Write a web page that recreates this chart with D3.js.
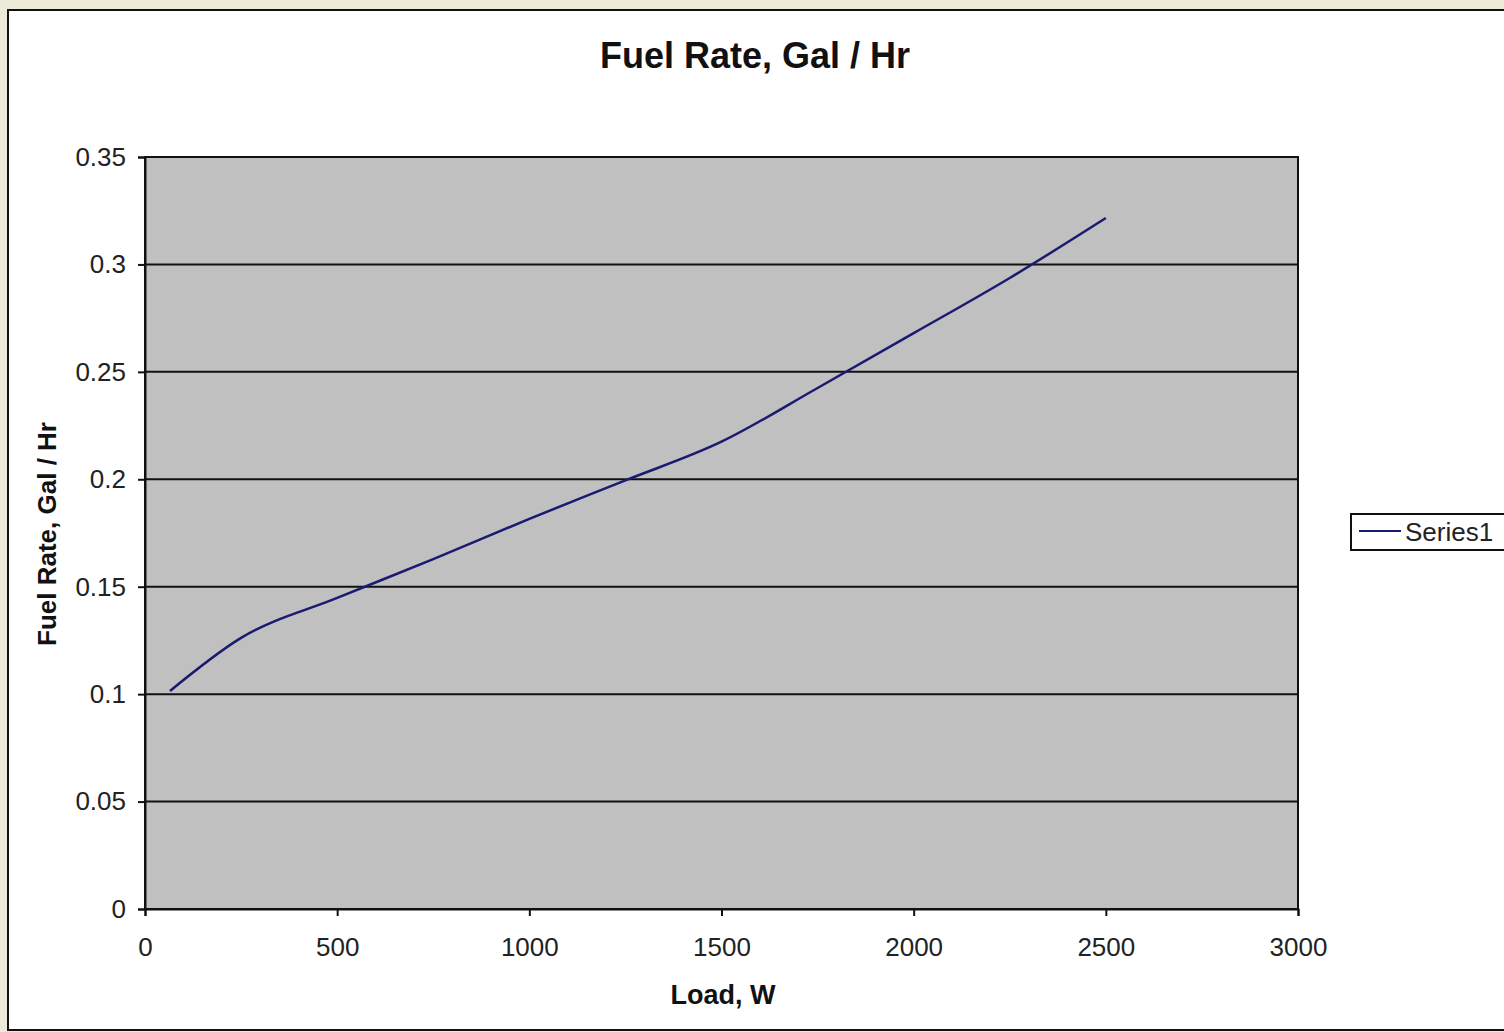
<!DOCTYPE html>
<html>
<head>
<meta charset="utf-8">
<script src="https://cdn.jsdelivr.net/npm/d3@7"></script>
<style>
  body { margin: 0; background: #ecebd9; }
  svg { display: block; font-family: "Liberation Sans", Arial, sans-serif; }
</style>
</head>
<body>
<svg id="chart"></svg>
<script>
// Data
var loads = [65, 250, 500, 750, 1000, 1250, 1500, 1750, 2000, 2250, 2500];
var fuelRate = [0.1015, 0.1262, 0.1448, 0.1628, 0.1816, 0.1995, 0.2175, 0.2425, 0.268, 0.2937, 0.3216];
var xTicks = [0, 500, 1000, 1500, 2000, 2500, 3000];
var yTicks = [0, 0.05, 0.1, 0.15, 0.2, 0.25, 0.3, 0.35];
var seriesName = "Series1";

var W = 1504, H = 1032;
var plot = {left: 145, top: 157, right: 1298, bottom: 909};

var svg = d3.select("#chart").attr("width", W).attr("height", H);

// chart area
svg.append("rect")
    .attr("x", 8).attr("y", 10)
    .attr("width", W + 20).attr("height", 1020)
    .attr("fill", "#fff")
    .attr("stroke", "#111").attr("stroke-width", 2);

var x = d3.scaleLinear().domain([0, 3000]).range([plot.left, plot.right]);
var y = d3.scaleLinear().domain([0, 0.35]).range([plot.bottom, plot.top]);

// plot area
svg.append("rect")
    .attr("x", plot.left).attr("y", plot.top)
    .attr("width", plot.right - plot.left).attr("height", plot.bottom - plot.top)
    .attr("fill", "#c0c0c0")
    .attr("stroke", "#111").attr("stroke-width", 2);

// gridlines
svg.append("g").selectAll("line")
    .data(yTicks.filter(function(d) { return d > 0 && d < 0.35; }))
    .enter().append("line")
    .attr("x1", plot.left).attr("x2", plot.right)
    .attr("y1", function(d) { return y(d); })
    .attr("y2", function(d) { return y(d); })
    .attr("stroke", "#111").attr("stroke-width", 2);

// axes
var yAxis = svg.append("g")
    .attr("transform", "translate(" + plot.left + ",0)")
    .call(d3.axisLeft(y).tickValues(yTicks).tickSize(7).tickPadding(12)
        .tickFormat(function(d) { return d3.format("")(+d.toFixed(2)); }));
var xAxis = svg.append("g")
    .attr("transform", "translate(0," + plot.bottom + ")")
    .call(d3.axisBottom(x).tickValues(xTicks).tickSize(7).tickPadding(22)
        .tickFormat(d3.format("d")));

[xAxis, yAxis].forEach(function(a) {
    a.select(".domain").attr("stroke", "#111").attr("stroke-width", 2);
    a.selectAll(".tick line").attr("stroke", "#111").attr("stroke-width", 2);
    a.selectAll(".tick text").attr("fill", "#222").style("font-size", "26px");
});

// series
var line = d3.line()
    .x(function(d, i) { return x(loads[i]); })
    .y(function(d) { return y(d); })
    .curve(d3.curveMonotoneX);

svg.append("path")
    .datum(fuelRate)
    .attr("d", line)
    .attr("fill", "none")
    .attr("stroke", "#1a1a70")
    .attr("stroke-width", 2.5);

// titles
svg.append("text")
    .attr("x", 755).attr("y", 68)
    .attr("text-anchor", "middle")
    .attr("font-weight", "bold")
    .style("font-size", "36px")
    .attr("fill", "#111")
    .text("Fuel Rate, Gal / Hr");

svg.append("text")
    .attr("x", 723).attr("y", 1004)
    .attr("text-anchor", "middle")
    .attr("font-weight", "bold")
    .style("font-size", "27px")
    .attr("fill", "#111")
    .text("Load, W");

svg.append("text")
    .attr("transform", "translate(56,534) rotate(-90)")
    .attr("text-anchor", "middle")
    .attr("font-weight", "bold")
    .style("font-size", "26px")
    .attr("fill", "#111")
    .text("Fuel Rate, Gal / Hr");

// legend
var legend = svg.append("g").attr("transform", "translate(1351,514)");
legend.append("rect")
    .attr("width", 180).attr("height", 36)
    .attr("fill", "#fff")
    .attr("stroke", "#111").attr("stroke-width", 2);
legend.append("line")
    .attr("x1", 8).attr("x2", 50)
    .attr("y1", 17).attr("y2", 17)
    .attr("stroke", "#1a1a70").attr("stroke-width", 2);
legend.append("text")
    .attr("x", 54).attr("y", 27)
    .style("font-size", "26px")
    .attr("fill", "#222")
    .text(seriesName);
</script>
</body>
</html>
